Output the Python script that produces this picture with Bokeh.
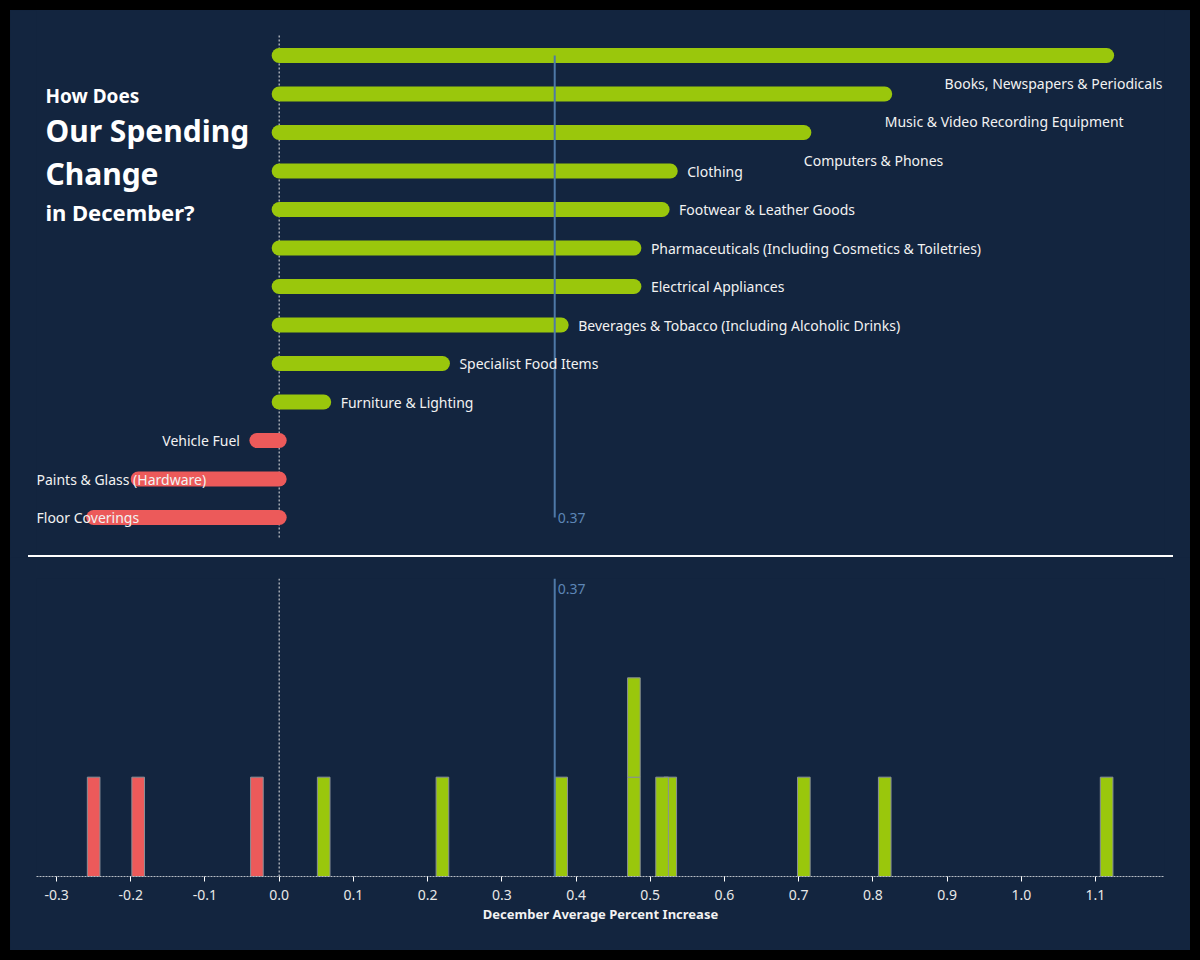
import numpy as np
from bokeh.plotting import figure
from bokeh.layouts import column, row
from bokeh.models import (ColumnDataSource, Range1d, Span, FixedTicker,
                          PrintfTickFormatter, Spacer, Label)
from bokeh.core.properties import value
from bokeh.embed import file_html
from bokeh.resources import INLINE

# ---- data -------------------------------------------------------------
CATEGORIES = [
    "Books, Newspapers & Periodicals",
    "Music & Video Recording Equipment",
    "Computers & Phones",
    "Clothing",
    "Footwear & Leather Goods",
    "Pharmaceuticals (Including Cosmetics & Toiletries)",
    "Electrical Appliances",
    "Beverages & Tobacco (Including Alcoholic Drinks)",
    "Specialist Food Items",
    "Furniture & Lighting",
    "Vehicle Fuel",
    "Paints & Glass (Hardware)",
    "Floor Coverings",
]
PCT_INCREASE = [1.115, 0.816, 0.707, 0.527, 0.516, 0.478, 0.478,
                0.380, 0.220, 0.060, -0.030, -0.190, -0.250]
X_TICKS = [-0.3, -0.2, -0.1, 0.0, 0.1, 0.2, 0.3, 0.4, 0.5, 0.6,
           0.7, 0.8, 0.9, 1.0, 1.1]
TITLE_LINES = ["How Does", "Our Spending", "Change", "in December?"]
AXIS_TITLE = "December Average Percent Increase"

# ---- style ------------------------------------------------------------
BG = "#13253f"
GREEN = "#9ac70c"
RED = "#ec5a5a"
MEAN_COLOR = "#4e79a7"
MEAN_TEXT = "#5d86b6"
TEXT = "#f2f2f2"
FONT = "Noto Sans"

AX_LO, AX_HI = -0.327, 1.193          # domain of the shared value axis
PX = 742.0                            # pixels per unit on that axis
LONG_BAR = 0.6                        # long bars carry their label underneath
LABEL_GAP = 17                        # px between bar end and its label
CHAR_PX = 7.1                         # rough label width per character

mean_val = float(np.mean(PCT_INCREASE))
mean_txt = f"{mean_val:.2f}"
rows = list(range(len(CATEGORIES)))
colors = [GREEN if v >= 0 else RED for v in PCT_INCREASE]


def styled(fig):
    # one fill for the whole canvas, so no seam shows round the frame
    fig.background_fill_color = None
    fig.border_fill_color = BG
    fig.outline_line_color = None
    fig.grid.visible = False
    return fig


# ---- top: ranked bars ------------------------------------------------
top = styled(figure(width=1180, height=545, output_backend="svg", toolbar_location=None,
                    x_range=Range1d(AX_LO, AX_HI),
                    y_range=Range1d(12.987, -1.169),
                    x_axis_location=None, y_axis_location=None,
                    min_border_left=26, min_border_right=26,
                    min_border_top=0, min_border_bottom=0))

# zero reference
top.segment(x0=[0], x1=[0], y0=[-0.52], y1=[12.52], line_color="#e8e8e8",
            line_width=1, line_dash="2 2")

bar_src = ColumnDataSource(dict(y=rows, v=PCT_INCREASE, zero=[0] * len(rows), c=colors))
top.segment(x0="zero", x1="v", y0="y", y1="y", source=bar_src, line_color="c",
            line_width=15, line_cap="round")

# average line
top.segment(x0=[mean_val], x1=[mean_val], y0=[0], y1=[rows[-1]],
            line_color=MEAN_COLOR, line_width=2)
top.text(x=[mean_val], y=[rows[-1]], text=[mean_txt], x_offset=3,
         text_baseline="middle", text_align="left", text_color=MEAN_TEXT,
         text_font=value(FONT), text_font_size="14px")

# category labels
left_lab = dict(x=[], y=[], t=[], off=[])
right_lab = dict(x=[], y=[], t=[], off=[])
for i, (cat, v) in enumerate(zip(CATEGORIES, PCT_INCREASE)):
    w = len(cat) * CHAR_PX / PX
    if v < 0:
        if v - LABEL_GAP / PX - w < AX_LO:
            tgt, x, off = left_lab, AX_LO, 0
        else:
            tgt, x, off = right_lab, v, -LABEL_GAP
        y = i
    elif v > LONG_BAR:
        y = i + 0.72
        if v + w > AX_HI:
            tgt, x, off = right_lab, AX_HI, -2
        else:
            tgt, x, off = left_lab, v, 0
    else:
        tgt, x, off, y = left_lab, v, LABEL_GAP, i
    tgt["x"].append(x); tgt["y"].append(y); tgt["t"].append(cat); tgt["off"].append(off)

for lab, align in ((left_lab, "left"), (right_lab, "right")):
    top.text(x="x", y="y", text="t", x_offset="off", source=ColumnDataSource(lab),
             text_align=align, text_baseline="middle", text_color=TEXT,
             text_font=value(FONT), text_font_size="14px")

# headline
title_sizes = ["19px", "30px", "30px", "22px"]
title_rows = [1.05, 1.95, 3.07, 4.06]
for line, size, yr in zip(TITLE_LINES, title_sizes, title_rows):
    top.add_layout(Label(x=-0.315, y=yr, text=line, text_color="#ffffff",
                         text_font=FONT, text_font_style="bold",
                         text_font_size=size, text_baseline="alphabetic"))

# ---- bottom: distribution strip --------------------------------------
BIN_W = 0.017
stack = {}
q_left, q_right, q_bot, q_top, q_col = [], [], [], [], []
for v, c in zip(PCT_INCREASE, colors):
    k = round(v, 3)
    h = stack.get(k, 0)
    stack[k] = h + 1
    q_left.append(v - BIN_W / 2); q_right.append(v + BIN_W / 2)
    q_bot.append(h); q_top.append(h + 1); q_col.append(c)

bot = styled(figure(width=1180, height=393, output_backend="svg", toolbar_location=None,
                    x_range=Range1d(AX_LO, AX_HI), y_range=Range1d(0, 3),
                    y_axis_location=None,
                    min_border_left=26, min_border_right=26,
                    min_border_top=21, min_border_bottom=74))

bot.quad(left=q_left, right=q_right, bottom=q_bot, top=q_top, fill_color=q_col,
         line_color="#8a9098", line_width=1)

bot.add_layout(Span(location=0, dimension="height", line_color="#e8e8e8",
                    line_width=1, line_dash="2 2"))
bot.add_layout(Span(location=mean_val, dimension="height", line_color=MEAN_COLOR,
                    line_width=2))
bot.text(x=[mean_val], y=[2.89], text=[mean_txt], x_offset=3,
         text_baseline="middle", text_align="left", text_color=MEAN_TEXT,
         text_font=value(FONT), text_font_size="14px")

ax = bot.xaxis[0]
ax.ticker = FixedTicker(ticks=X_TICKS)
ax.formatter = PrintfTickFormatter(format="%.1f")
ax.axis_line_color = "#b8bec6"
ax.axis_line_dash = "2 1"
ax.axis_line_width = 1
ax.major_tick_line_color = "#ffffff"
ax.major_tick_out = 5
ax.major_tick_in = 0
ax.minor_tick_line_color = None
ax.major_label_text_color = "#e8e8e8"
ax.major_label_text_font = FONT
ax.major_label_text_font_size = "14px"
ax.major_label_standoff = 8
ax.axis_label = AXIS_TITLE
ax.axis_label_text_color = "#f2f2f2"
ax.axis_label_text_font = FONT
ax.axis_label_text_font_style = "bold"
ax.axis_label_text_font_size = "13px"
ax.axis_label_standoff = 2

# ---- page frame -------------------------------------------------------
black = {"background-color": "#000000"}
navy = {"background-color": BG}
separator = row(Spacer(width=18, height=2, styles=navy),
                Spacer(width=1145, height=2, styles={"background-color": "#ffffff"}),
                Spacer(width=17, height=2, styles=navy))
layout = column(
    Spacer(width=1200, height=10, styles=black),
    row(Spacer(width=10, height=940, styles=black),
        column(top, separator, bot, styles=navy),
        Spacer(width=10, height=940, styles=black)),
    Spacer(width=1200, height=10, styles=black),
    styles=navy,
)

open("out.html", "w").write(file_html(layout, INLINE))
